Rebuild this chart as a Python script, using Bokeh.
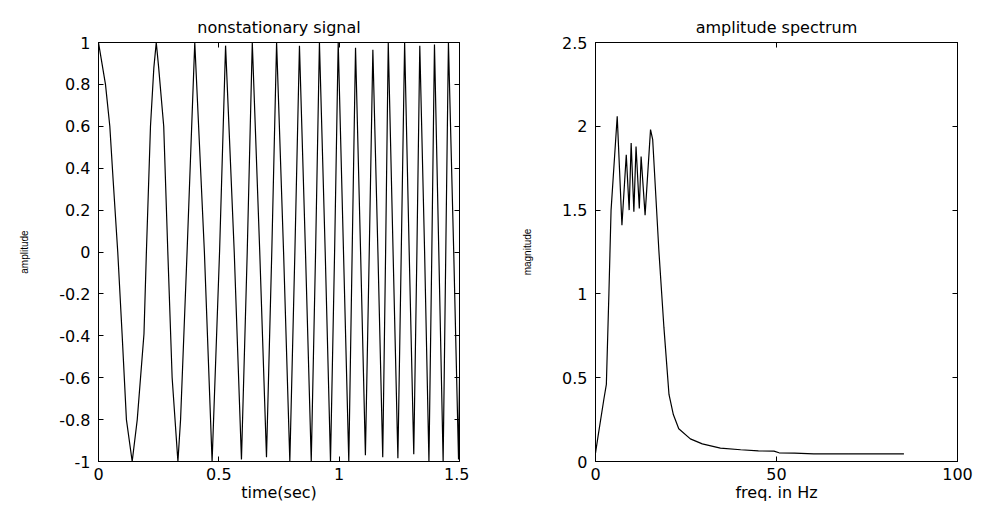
from bokeh.plotting import figure
from bokeh.layouts import row
from bokeh.models import (LinearAxis, FixedTicker, NumeralTickFormatter, Range1d,
                          CustomJSTickFormatter)
from bokeh.embed import file_html
from bokeh.resources import INLINE

# ---------------- data ----------------
# nonstationary signal: extrema, zero crossings and a few extra points (time in s)
time_sec = [0.000, 0.029, 0.047, 0.061, 0.080, 0.098, 0.116, 0.140, 0.161, 0.189,
            0.199, 0.216, 0.230, 0.240, 0.250, 0.271, 0.288, 0.306, 0.330, 0.341,
            0.368, 0.400, 0.440, 0.472, 0.503, 0.528, 0.564, 0.594, 0.618, 0.639,
            0.670, 0.698, 0.720, 0.740, 0.769, 0.795, 0.816, 0.835, 0.860, 0.884,
            0.902, 0.918, 0.942, 0.964, 0.981, 0.996, 1.018, 1.040, 1.054, 1.068,
            1.089, 1.109, 1.125, 1.140, 1.161, 1.181, 1.193, 1.204, 1.224, 1.244,
            1.258, 1.272, 1.291, 1.310, 1.323, 1.335, 1.355, 1.373, 1.385, 1.396,
            1.414, 1.432, 1.443, 1.454, 1.476, 1.496, 1.500]
amplitude = [1.00, 0.80, 0.60, 0.34, 0.00, -0.39, -0.80, -1.00, -0.80, -0.39,
             0.00, 0.60, 0.88, 1.00, 0.88, 0.60, 0.00, -0.60, -1.00, -0.80,
             0.00, 1.00, 0.00, -1.00, 0.00, 0.985, 0.00, -0.99, 0.00, 1.00,
             0.00, -0.98, 0.00, 1.00, 0.00, -1.00, 0.00, 0.985, 0.00, -1.00,
             0.00, 1.00, 0.00, -1.00, 0.00, 1.00, 0.00, -1.00, 0.00, 0.975,
             0.00, -0.97, 0.00, 0.965, 0.00, -0.98, 0.00, 1.00, 0.00, -0.985,
             0.00, 1.00, 0.00, -0.965, 0.00, 0.985, 0.00, -1.00, 0.00, 0.99,
             0.00, -1.00, 0.00, 1.00, 0.00, -0.99, -0.60]

# amplitude spectrum
freq_hz = [0.0, 0.7, 2.3, 3.0, 3.7, 4.3, 6.0, 7.3, 8.5, 9.3,
           9.85, 10.6, 11.2, 12.1, 12.6, 13.7, 15.2, 15.8, 17.5, 18.9,
           20.3, 21.5, 23.0, 26.2, 29.5, 34.5, 40.1, 45.0, 49.3, 50.7,
           55.0, 60.3, 70.0, 85.2]
magnitude = [0.05, 0.15, 0.37, 0.46, 1.00, 1.50, 2.06, 1.41, 1.83, 1.50,
             1.90, 1.49, 1.88, 1.51, 1.82, 1.47, 1.98, 1.92, 1.26, 0.80,
             0.40, 0.28, 0.195, 0.135, 0.105, 0.08, 0.07, 0.063, 0.062, 0.052,
             0.05, 0.046, 0.045, 0.046]

time_ticks = [0, 0.5, 1, 1.5]
amp_ticks = [-1, -0.8, -0.6, -0.4, -0.2, 0, 0.2, 0.4, 0.6, 0.8, 1]
freq_ticks = [0, 50, 100]
mag_ticks = [0, 0.5, 1, 1.5, 2, 2.5]

FONT = "DejaVu Sans"


def style(p, xticks, yticks, xlabel, ylabel):
    bottom = p.below[0]
    left = p.left[0]
    p.title.text_font = FONT
    p.title.text_font_size = "16px"
    p.title.text_font_style = "normal"
    p.title.align = "center"
    p.title.text_color = "black"
    p.title.standoff = 11
    p.grid.visible = False
    p.outline_line_color = "black"
    p.outline_line_width = 1
    p.background_fill_color = "white"
    p.border_fill_color = "white"
    bottom.ticker = FixedTicker(ticks=xticks)
    left.ticker = FixedTicker(ticks=yticks)
    # mirrored axes carrying only inward ticks
    top = LinearAxis(ticker=FixedTicker(ticks=xticks))
    right = LinearAxis(ticker=FixedTicker(ticks=yticks))
    for ax in (top, right):
        ax.formatter = CustomJSTickFormatter(code="return ''")
        ax.major_label_standoff = 0
        ax.minor_tick_line_color = None
        ax.major_tick_in = 5
        ax.major_tick_out = 0
        ax.major_tick_line_color = "black"
        ax.axis_line_color = "black"
    p.add_layout(top, "above")
    p.add_layout(right, "right")
    for ax in (bottom, left):
        ax.formatter = NumeralTickFormatter(format="0.[0]")
        ax.minor_tick_line_color = None
        ax.major_tick_in = 5
        ax.major_tick_out = 0
        ax.major_tick_line_color = "black"
        ax.axis_line_color = "black"
        ax.major_label_text_font = FONT
        ax.major_label_text_color = "black"
        ax.major_label_text_font_size = "16px"
        ax.axis_label_text_color = "black"
        ax.axis_label_text_font_style = "normal"
    bottom.axis_label = xlabel
    bottom.axis_label_text_font = FONT
    bottom.axis_label_text_font_size = "16px"
    bottom.axis_label_standoff = 0
    bottom.major_label_standoff = 6
    left.axis_label = ylabel
    left.axis_label_text_font = "Liberation Sans"
    left.axis_label_text_font_size = "10px"
    left.axis_label_standoff = 26
    left.major_label_standoff = 8


p1 = figure(frame_width=361, frame_height=419,
            x_range=Range1d(0, 1.5), y_range=Range1d(-1, 1),
            title="nonstationary signal",
            output_backend="svg", toolbar_location=None,
            min_border_left=98, min_border_right=10,
            min_border_top=42, min_border_bottom=47)
p1.line(time_sec, amplitude, line_color="black", line_width=1.2)
style(p1, time_ticks, amp_ticks, "time(sec)", "amplitude")

p2 = figure(frame_width=362, frame_height=419,
            x_range=Range1d(0, 100), y_range=Range1d(0, 2.5),
            title="amplitude spectrum",
            output_backend="svg", toolbar_location=None,
            min_border_left=126, min_border_right=26,
            min_border_top=42, min_border_bottom=47)
p2.line(freq_hz, magnitude, line_color="black", line_width=1.2)
style(p2, freq_ticks, mag_ticks, "freq. in Hz", "magnitude")

layout = row(p1, p2, spacing=0)
open("out.html", "w").write(file_html(layout, INLINE))
